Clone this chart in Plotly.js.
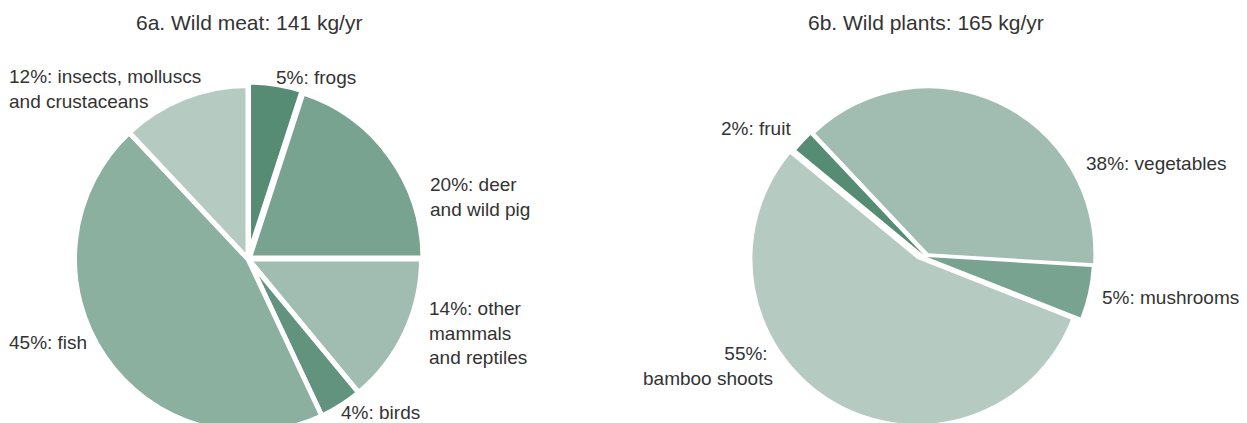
<!DOCTYPE html>
<html>
<head>
<meta charset="utf-8">
<script src="https://cdn.plot.ly/plotly-3.0.1.min.js"></script>
<style>
  html, body { margin: 0; padding: 0; background: #fff; overflow: hidden; }
  #chart { width: 1247px; height: 450px; }
</style>
</head>
<body>
<div id="chart"></div>
<script>
// ---- data ----
var meatTitle = '6a. Wild meat: 141 kg/yr';
var meatLabels = ['frogs', 'deer and wild pig', 'other mammals and reptiles', 'birds', 'fish', 'insects, molluscs and crustaceans'];
var meatValues = [5, 20, 14, 4, 45, 12];
var meatText = ['frogs', 'deer<br>and wild pig', 'other<br>mammals<br>and reptiles', 'birds', 'fish', 'insects, molluscs<br>and crustaceans'];

var plantTitle = '6b. Wild plants: 165 kg/yr';
var plantLabels = ['vegetables', 'mushrooms', 'bamboo shoots', 'fruit'];
var plantValues = [38, 5, 55, 2];
var plantText = ['vegetables', 'mushrooms', '<br>bamboo shoots', 'fruit'];

// ---- styles ----
var meatColors = ['#568b74', '#78a391', '#a1bdb1', '#62937f', '#8bb09f', '#b5cbc2'];
var plantColors = ['#a1bdb1', '#78a391', '#b5cbc2', '#568b74'];

var W = 1247, H = 450;
function px(x) { return x / W; }
function py(y) { return 1 - y / H; }

var traces = [];

// left pie
var lc = {x: 248, y: 259}, lR = 173.5, lPull = [0.02, 0.01, 0, 0, 0, 0];
var lHalf = lR * (1 + 0.02);
traces.push({
  type: 'pie', values: meatValues, labels: meatLabels, sort: false,
  direction: 'clockwise', rotation: 0, pull: lPull,
  marker: {colors: meatColors, line: {color: '#ffffff', width: 5}},
  textinfo: 'none', hoverinfo: 'label+percent', showlegend: false,
  domain: {x: [px(lc.x - lHalf), px(lc.x + lHalf)], y: [py(lc.y + lHalf), py(lc.y - lHalf)]}
});

// right pie: each slice drawn with its own explosion offset
var rR = 165;
var rCenters = [[928.4, 253.3], [927, 257], [917.4, 259], [923.7, 255]];
for (var k = 0; k < plantValues.length; k++) {
  var cols = plantColors.map(function (c, i) { return i === k ? c : 'rgba(0,0,0,0)'; });
  var cx = rCenters[k][0], cy = rCenters[k][1];
  traces.push({
    type: 'pie', values: plantValues, labels: plantLabels, sort: false,
    direction: 'clockwise', rotation: -43.3,
    marker: {colors: cols, line: {color: '#ffffff', width: 0}},
    textinfo: 'none', hoverinfo: 'skip', showlegend: false,
    domain: {x: [px(cx - rR), px(cx + rR)], y: [py(cy + rR), py(cy - rR)]}
  });
}

// label placements (pixel positions)
var meatPos = [
  {x: 274, y: 77, a: 'left'},
  {x: 428, y: 197, a: 'left'},
  {x: 426.5, y: 333, a: 'left'},
  {x: 339, y: 412, a: 'left'},
  {x: 7, y: 342, a: 'left'},
  {x: 7, y: 89, a: 'left'}
];
var plantPos = [
  {x: 1084, y: 163, a: 'left'},
  {x: 1100, y: 297, a: 'left'},
  {x: 775, y: 366, a: 'right'},
  {x: 793, y: 129, a: 'right'}
];

var labelFont = {family: 'Liberation Sans, Arial, sans-serif', size: 19, color: '#333333'};
var annotations = [];
function addLabels(values, texts, pos) {
  for (var i = 0; i < values.length; i++) {
    annotations.push({
      xref: 'paper', yref: 'paper', x: px(pos[i].x), y: py(pos[i].y),
      xanchor: pos[i].a, yanchor: 'middle', align: pos[i].a,
      showarrow: false, text: values[i] + '%: ' + texts[i], font: labelFont
    });
  }
}
addLabels(meatValues, meatText, meatPos);
addLabels(plantValues, plantText, plantPos);

var titleFont = {family: 'Liberation Sans, Arial, sans-serif', size: 21, color: '#333333'};
annotations.push({xref: 'paper', yref: 'paper', x: px(248.5), y: py(22.5), xanchor: 'center', yanchor: 'middle',
  showarrow: false, text: meatTitle, font: titleFont});
annotations.push({xref: 'paper', yref: 'paper', x: px(926), y: py(22.5), xanchor: 'center', yanchor: 'middle',
  showarrow: false, text: plantTitle, font: titleFont});

var layout = {
  width: W, height: H,
  margin: {l: 0, r: 0, t: 0, b: 0},
  paper_bgcolor: '#ffffff', plot_bgcolor: '#ffffff',
  showlegend: false,
  font: labelFont,
  annotations: annotations
};

Plotly.newPlot('chart', traces, layout, {displayModeBar: false, staticPlot: true});
</script>
</body>
</html>
